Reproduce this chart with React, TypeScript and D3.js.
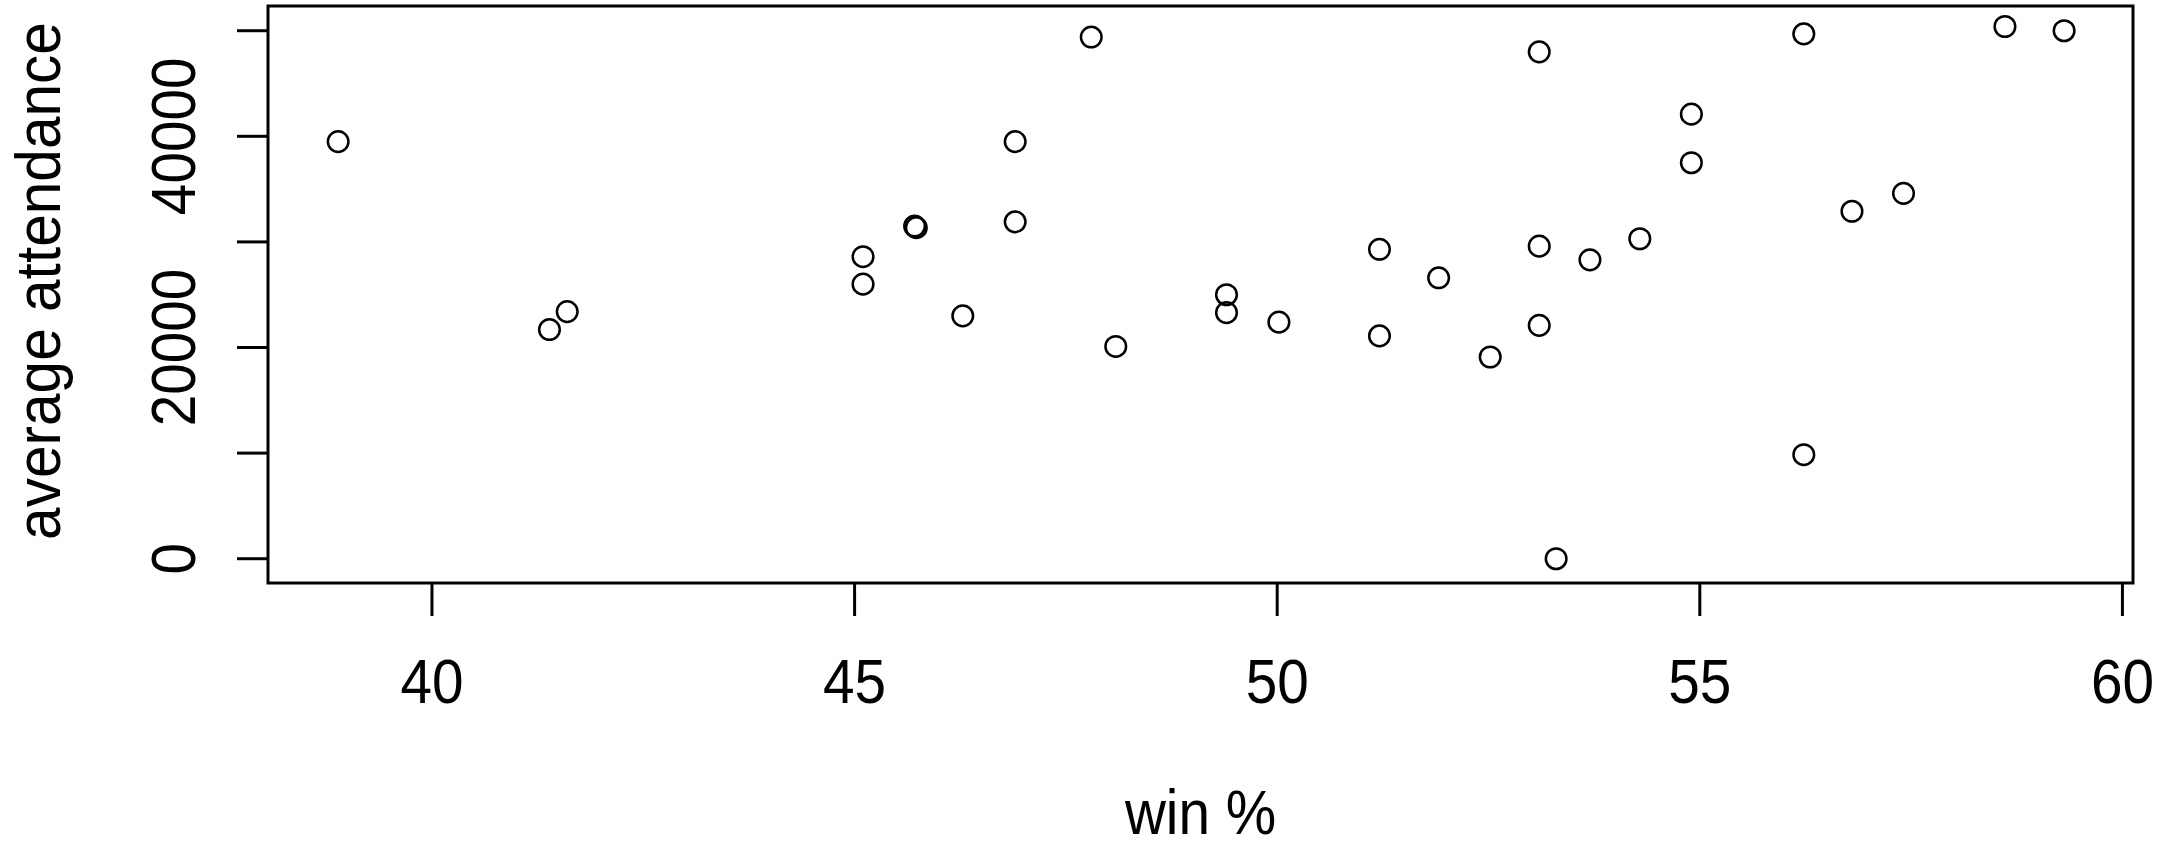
import React, { useEffect, useRef } from 'react';
import * as d3 from 'd3';

// win % vs average attendance
const winPct = [
  38.89, 41.39, 41.6, 45.1, 45.1, 45.71, 45.73, 46.28, 46.9, 46.9, 47.8,
  48.09, 49.4, 49.4, 50.02, 51.21, 51.21, 51.91, 52.52, 53.1, 53.1, 53.1,
  53.3, 53.7, 54.29, 54.9, 54.9, 56.23, 56.23, 56.8, 57.41, 58.61, 59.31
];
const attendance = [
  39500, 21700, 23400, 28600, 26000, 31500, 31350, 23000, 39500, 31900, 49400,
  20100, 25000, 23300, 22400, 29300, 21100, 26600, 19100, 48000, 29600, 22100,
  0, 28300, 30300, 42100, 37500, 49700, 9850, 32900, 34600, 50400, 50000
];

const xTicks = [40, 45, 50, 55, 60];
const yTicks = [0, 10000, 20000, 30000, 40000, 50000];
const yTickLabels = ['0', '', '20000', '', '40000', ''];

const xTitle = 'win %';
const yTitle = 'average attendance';

const W = 2167, H = 848;
const plot = { left: 268, top: 6, right: 2133, bottom: 583 };
const FONT = '"Liberation Sans", Arial, sans-serif';
const FS = 63;
const SQUEEZE = 0.9;

export default function App() {
  const ref = useRef<SVGSVGElement>(null);

  useEffect(() => {
    const svg = d3.select(ref.current);
    svg.selectAll('*').remove();

    const x = d3.scaleLinear().domain([38.06, 60.125]).range([plot.left, plot.right]);
    const y = d3.scaleLinear().domain([-2300, 52340]).range([plot.bottom, plot.top]);

    // frame
    svg.append('rect')
      .attr('x', plot.left).attr('y', plot.top)
      .attr('width', plot.right - plot.left).attr('height', plot.bottom - plot.top)
      .attr('fill', 'none').attr('stroke', 'black').attr('stroke-width', 3);

    // x axis ticks + labels
    const gx = svg.append('g');
    gx.selectAll('line').data(xTicks).join('line')
      .attr('x1', d => x(d)).attr('x2', d => x(d))
      .attr('y1', plot.bottom).attr('y2', plot.bottom + 33)
      .attr('stroke', 'black').attr('stroke-width', 3);
    gx.selectAll('text').data(xTicks).join('text')
      .attr('transform', d => `translate(${x(d)},703) scale(${SQUEEZE},1)`)
      .attr('text-anchor', 'middle')
      .style('font-family', FONT).style('font-size', FS + 'px')
      .text(d => String(d));

    // y axis ticks + labels (R skips the ones that would overlap)
    const gy = svg.append('g');
    gy.selectAll('line').data(yTicks).join('line')
      .attr('x1', plot.left - 31).attr('x2', plot.left)
      .attr('y1', d => y(d)).attr('y2', d => y(d))
      .attr('stroke', 'black').attr('stroke-width', 3);
    gy.selectAll('text').data(yTicks.filter((d, i) => yTickLabels[i] !== '')).join('text')
      .attr('transform', d => `translate(195,${y(d)}) rotate(-90) scale(${SQUEEZE},1)`)
      .attr('text-anchor', 'middle')
      .style('font-family', FONT).style('font-size', FS + 'px')
      .text(d => yTickLabels[yTicks.indexOf(d)]);

    // axis titles
    svg.append('text')
      .attr('transform', `translate(${(plot.left + plot.right) / 2},834) scale(${SQUEEZE},1)`)
      .attr('text-anchor', 'middle')
      .style('font-family', FONT).style('font-size', FS + 'px')
      .text(xTitle);
    svg.append('text')
      .attr('transform', `translate(60,281) rotate(-90) scale(0.93,1)`)
      .attr('text-anchor', 'middle')
      .style('font-family', FONT).style('font-size', FS + 'px')
      .text(yTitle);

    // points
    const data = winPct.map((w, i) => ({ w, a: attendance[i] }));
    svg.append('g').selectAll('circle').data(data).join('circle')
      .attr('cx', d => x(d.w)).attr('cy', d => y(d.a))
      .attr('r', 10.3)
      .attr('fill', 'none').attr('stroke', 'black').attr('stroke-width', 2.5);
  }, []);

  return (
    <svg ref={ref} width={W} height={H}
      style={{ position: 'absolute', left: 0, top: 0, background: 'white' }} />
  );
}
